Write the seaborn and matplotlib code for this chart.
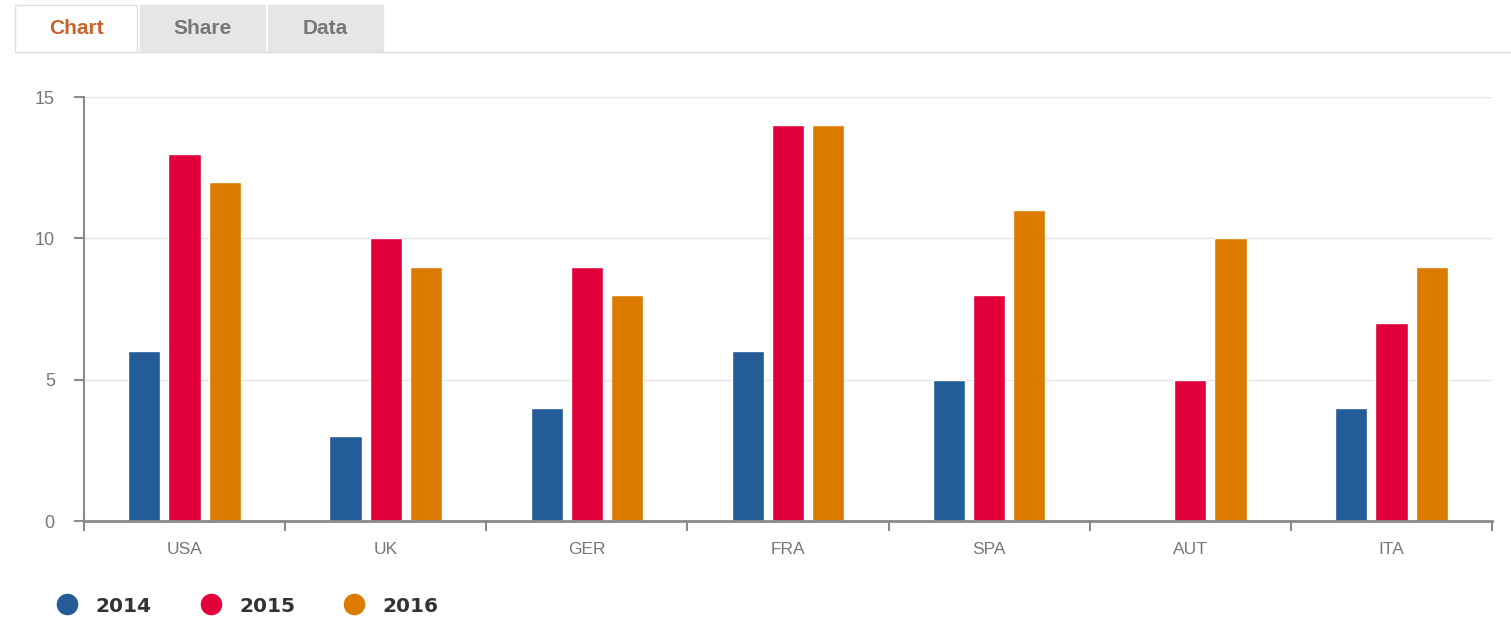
import matplotlib.pyplot as plt
import seaborn as sns
import pandas as pd
import numpy as np
from matplotlib.patches import Rectangle
from matplotlib.lines import Line2D

# Data
countries = ['USA', 'UK', 'GER', 'FRA', 'SPA', 'AUT', 'ITA']
years = ['2014', '2015', '2016']
v2014 = [6, 3, 4, 6, 5, np.nan, 4]
v2015 = [13, 10, 9, 14, 8, 5, 7]
v2016 = [12, 9, 8, 14, 11, 10, 9]
colors = ['#245c98', '#e2003b', '#dd7a00']

df = pd.DataFrame({
    'country': countries * 3,
    'year': np.repeat(years, len(countries)),
    'value': v2014 + v2015 + v2016,
})

sns.set_style('white')
plt.rcParams['font.family'] = ['Liberation Sans', 'DejaVu Sans']

W, H = 1511, 620
fig = plt.figure(figsize=(W / 100, H / 100), dpi=100)

def fx(x):
    return x / W

def fy(y):
    return 1 - y / H

ax = fig.add_axes([fx(84), fy(521), (1492 - 84) / W, (521 - 97) / H])
sns.barplot(data=df, x='country', y='value', hue='year', palette=colors,
            width=0.6, gap=0.2, saturation=1, legend=False, ax=ax)

#Axes styling
ax.set_xlim(-0.5, len(countries) - 0.5)
ax.set_ylim(0, 15)
ax.set_yticks([0, 5, 10, 15])
ax.set_xlabel('')
ax.set_ylabel('')
ax.yaxis.grid(True, color='#e3e3e3', linewidth=1)
ax.set_axisbelow(True)
for s in ['top', 'right']:
    ax.spines[s].set_visible(False)
ax.spines['left'].set_color('#8a8a8a')
ax.spines['left'].set_linewidth(1.5)
ax.spines['bottom'].set_color('#8a8a8a')
ax.spines['bottom'].set_linewidth(2)
ax.tick_params(axis='y', left=True, length=7, width=1.5, color='#8a8a8a', pad=14,
               labelsize=13, labelcolor='#777777')
ax.tick_params(axis='x', which='major', bottom=True, length=0, pad=15,
               labelsize=12.5, labelcolor='#777777')
ax.set_xticks(np.arange(-0.5, len(countries), 1), minor=True)
ax.tick_params(axis='x', which='minor', bottom=True, length=7, width=1.5, color='#8a8a8a')

#Tabs at the top
tabs = [('Chart', 15, 137, 'white', '#c8622a'),
        ('Share', 140, 265, '#e6e6e6', '#777777'),
        ('Data', 268, 383, '#e6e6e6', '#777777')]
for label, x0, x1, fc, tc in tabs:
    fig.add_artist(Rectangle((fx(x0), fy(52)), (x1 - x0) / W, 47 / H,
                             transform=fig.transFigure, facecolor=fc,
                             edgecolor='#dddddd' if fc == 'white' else fc, linewidth=1))
    fig.text(fx((x0 + x1) / 2), fy(29), label, ha='center', va='center',
             fontsize=15, fontweight='bold', color=tc)
fig.add_artist(Line2D([fx(137), 1], [fy(52), fy(52)], transform=fig.transFigure,
                      color='#dddddd', linewidth=1))

#Legend
handles = [Line2D([], [], marker='o', linestyle='', markersize=14.5,
                  markerfacecolor=c, markeredgecolor=c) for c in colors]
fig.legend(handles, years, loc='center left', bbox_to_anchor=(fx(29), fy(606)),
           ncol=3, frameon=False, handletextpad=0.4, columnspacing=1.95,
           prop={'size': 14.5, 'weight': 'bold', 'family': 'DejaVu Sans'},
           labelcolor='#333333')

plt.savefig('out.png', dpi=100)
